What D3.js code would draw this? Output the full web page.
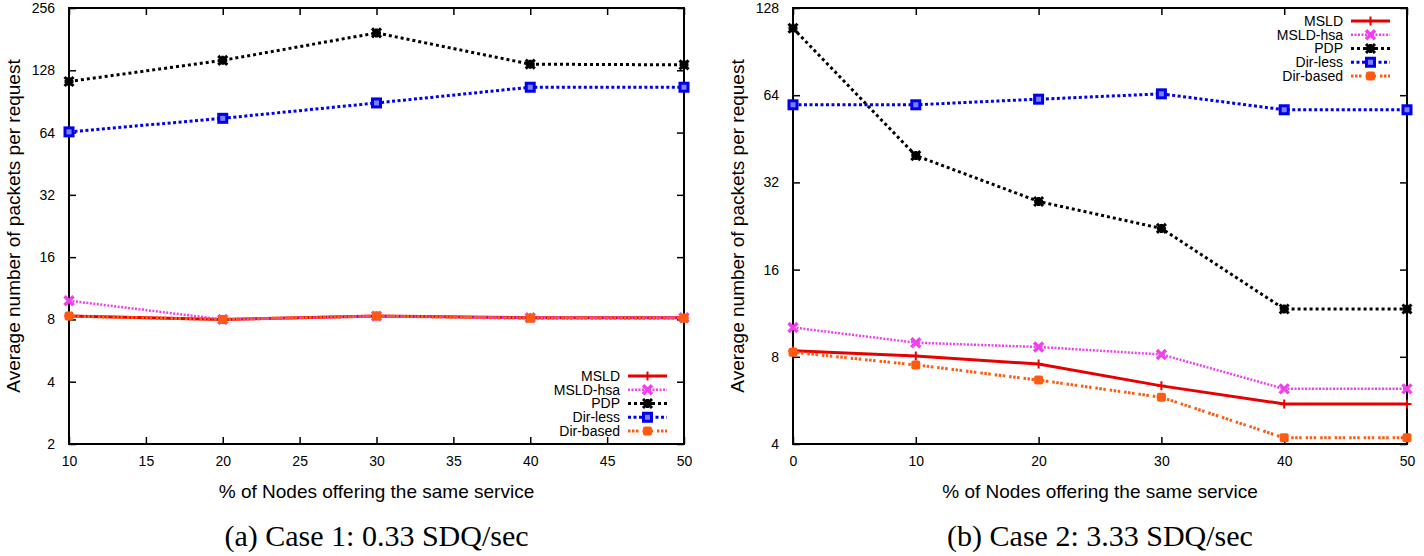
<!DOCTYPE html>
<html>
<head>
<meta charset="utf-8">
<script src="https://cdn.jsdelivr.net/npm/d3@7"></script>
<style>
  body { margin: 0; background: #fff; }
  svg { display: block; }
</style>
</head>
<body>
<svg id="chart" width="1424" height="556"></svg>
<script>
// data
const seriesNames = ["MSLD", "MSLD-hsa", "PDP", "Dir-less", "Dir-based"];

const xLeft = [10, 20, 30, 40, 50];
const leftMSLD = [8.3, 8.0, 8.3, 8.15, 8.15];
const leftMSLDhsa = [9.85, 8.0, 8.3, 8.15, 8.15];
const leftPDP = [113, 143, 194, 137, 136];
const leftDirLess = [64.5, 75, 89, 106, 106];
const leftDirBased = [8.3, 8.0, 8.3, 8.1, 8.1];

const xRight = [0, 10, 20, 30, 40, 50];
const rightMSLD = [8.4, 8.05, 7.55, 6.35, 5.5, 5.5];
const rightMSLDhsa = [10.1, 8.95, 8.65, 8.15, 6.2, 6.2];
const rightPDP = [109, 39.6, 27.5, 22.2, 11.7, 11.7];
const rightDirLess = [59.3, 59.3, 62, 64.7, 57, 57];
const rightDirBased = [8.3, 7.5, 6.65, 5.8, 4.2, 4.2];

const xTicksLeft = [10, 15, 20, 25, 30, 35, 40, 45, 50];
const xTicksRight = [0, 10, 20, 30, 40, 50];
const yTicksLeft = [2, 4, 8, 16, 32, 64, 128, 256];
const yTicksRight = [4, 8, 16, 32, 64, 128];

const xTitle = "% of Nodes offering the same service";
const yTitle = "Average number of packets per request";
const captions = ["(a) Case 1: 0.33 SDQ/sec", "(b) Case 2: 3.33 SDQ/sec"];

// styles per series
const styles = [
  { color: "#e80000", dash: null, width: 3, marker: "plus" },
  { color: "#f040f0", dash: "2,1.5", width: 2.5, marker: "cross" },
  { color: "#000000", dash: "3,3", width: 3, marker: "star" },
  { color: "#0000ee", dash: "3,2.5", width: 3, marker: "square" },
  { color: "#ff5a10", dash: "2.5,1.5,2.5,1.5,2.5,4", width: 3, marker: "fsquare" }
];

const svg = d3.select("#chart");
const font = "'Liberation Sans', Arial, sans-serif";

function drawMarker(g, type, x, y, color) {
  const s = 4.5;
  if (type === "plus") {
    g.append("path").attr("d", `M${x - s},${y}H${x + s}M${x},${y - s}V${y + s}`)
      .attr("stroke", color).attr("stroke-width", 2).attr("fill", "none");
  } else if (type === "cross") {
    g.append("path").attr("d", `M${x - s},${y - s}L${x + s},${y + s}M${x - s},${y + s}L${x + s},${y - s}`)
      .attr("stroke", color).attr("stroke-width", 3.5).attr("fill", "none");
  } else if (type === "star") {
    g.append("path").attr("d", `M${x - s},${y - s}L${x + s},${y + s}M${x - s},${y + s}L${x + s},${y - s}M${x - s},${y}H${x + s}M${x},${y - s}V${y + s}`)
      .attr("stroke", color).attr("stroke-width", 3).attr("fill", "none");
  } else if (type === "square") {
    g.append("rect").attr("x", x - 4).attr("y", y - 4).attr("width", 8).attr("height", 8)
      .attr("stroke", color).attr("stroke-width", 3).attr("fill", "#8080ff");
  } else if (type === "fsquare") {
    g.append("rect").attr("x", x - 4.5).attr("y", y - 4.5).attr("width", 9).attr("height", 9)
      .attr("rx", 2).attr("fill", color);
  }
}

function panel(opts) {
  const { left, right, top, bottom, xDomain, yDomain, xTicks, yTicks, xs, series, legendY, caption } = opts;
  const x = d3.scaleLinear().domain(xDomain).range([left, right]);
  const y = d3.scaleLog().base(2).domain(yDomain).range([bottom, top]);
  const g = svg.append("g");

  // inward ticks on all four sides
  g.append("g").attr("transform", `translate(0,${bottom})`)
    .call(d3.axisBottom(x).tickValues(xTicks).tickSizeInner(-7).tickSizeOuter(0).tickPadding(12).tickFormat(d3.format("d")))
    .call(a => a.select(".domain").remove());
  g.append("g").attr("transform", `translate(0,${top})`)
    .call(d3.axisTop(x).tickValues(xTicks).tickSizeInner(-7).tickSizeOuter(0).tickFormat(""))
    .call(a => a.select(".domain").remove());
  g.append("g").attr("transform", `translate(${left},0)`)
    .call(d3.axisLeft(y).tickValues(yTicks).tickSizeInner(-7).tickSizeOuter(0).tickPadding(14).tickFormat(d3.format("d")))
    .call(a => a.select(".domain").remove());
  g.append("g").attr("transform", `translate(${right},0)`)
    .call(d3.axisRight(y).tickValues(yTicks).tickSizeInner(-7).tickSizeOuter(0).tickFormat(""))
    .call(a => a.select(".domain").remove());
  g.selectAll(".tick line").attr("stroke", "#000").attr("stroke-width", 1.5);
  g.selectAll(".tick text").attr("font-family", font).attr("font-size", 14).attr("fill", "#000");

  g.append("rect").attr("x", left).attr("y", top).attr("width", right - left).attr("height", bottom - top)
    .attr("fill", "none").attr("stroke", "#000").attr("stroke-width", 2);

  const line = d3.line().x(d => x(d[0])).y(d => y(d[1]));
  series.forEach((vals, i) => {
    const st = styles[i];
    const pts = xs.map((xv, j) => [xv, vals[j]]);
    g.append("path").datum(pts).attr("d", line)
      .attr("fill", "none").attr("stroke", st.color).attr("stroke-width", st.width)
      .attr("stroke-dasharray", st.dash);
    pts.forEach(p => drawMarker(g, st.marker, x(p[0]), y(p[1]), st.color));
  });

  // legend
  seriesNames.forEach((name, i) => {
    const st = styles[i];
    const ly = legendY + i * 13.75;
    g.append("text").attr("x", right - 64).attr("y", ly).attr("dy", "0.35em")
      .attr("text-anchor", "end").attr("font-family", font).attr("font-size", 14).text(name);
    g.append("line").attr("x1", right - 56).attr("x2", right - 17).attr("y1", ly).attr("y2", ly)
      .attr("stroke", st.color).attr("stroke-width", st.width).attr("stroke-dasharray", st.dash);
    drawMarker(g, st.marker, right - 36.5, ly, st.color);
  });

  const cx = (left + right) / 2;
  g.append("text").attr("x", cx).attr("y", 498).attr("text-anchor", "middle")
    .attr("font-family", font).attr("font-size", 19).text(xTitle);
  g.append("text").attr("transform", `translate(${left - 49},${(top + bottom) / 2}) rotate(-90)`)
    .attr("text-anchor", "middle").attr("font-family", font).attr("font-size", 19).text(yTitle);
  g.append("text").attr("x", cx).attr("y", 546).attr("text-anchor", "middle")
    .attr("font-family", "'Liberation Serif', 'Times New Roman', serif").attr("font-size", 30).text(caption);
}

panel({
  left: 69, right: 684, top: 8, bottom: 444,
  xDomain: [10, 50], yDomain: [2, 256], xTicks: xTicksLeft, yTicks: yTicksLeft, xs: xLeft,
  series: [leftMSLD, leftMSLDhsa, leftPDP, leftDirLess, leftDirBased],
  legendY: 376, caption: captions[0]
});

panel({
  left: 793, right: 1407, top: 8, bottom: 444,
  xDomain: [0, 50], yDomain: [4, 128], xTicks: xTicksRight, yTicks: yTicksRight, xs: xRight,
  series: [rightMSLD, rightMSLDhsa, rightPDP, rightDirLess, rightDirBased],
  legendY: 21, caption: captions[1]
});
</script>
</body>
</html>
